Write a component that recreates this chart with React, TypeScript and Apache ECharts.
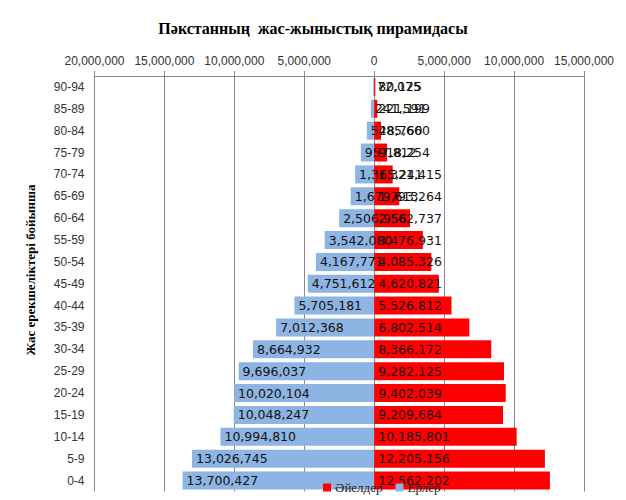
import React, { useEffect, useRef } from "react";
import * as echarts from "echarts";

const titleText = "Пәкстанның  жас-жыныстық пирамидасы";
const yAxisName = "Жас ерекшеліктері бойынша";
const seriesNames = ["Әйелдер", "Ерлер"];

const ageGroups = [
  "90-94", "85-89", "80-84", "75-79", "70-74", "65-69", "60-64", "55-59", "50-54",
  "45-49", "40-44", "35-39", "30-34", "25-29", "20-24", "15-19", "10-14", "5-9", "0-4",
];

const men = [
  72075, 241591, 528760, 957812, 1365241, 1679613, 2506956, 3542080, 4167771,
  4751612, 5705181, 7012368, 8664932, 9696037, 10020104, 10048247, 10994810, 13026745, 13700427,
];

const women = [
  80125, 221199, 485660, 918254, 1321415, 1793264, 2562737, 3476931, 4085326,
  4620821, 5526812, 6802514, 8366172, 9282125, 9402039, 9209684, 10185801, 12205156, 12562202,
];

const xMin = -20000000;
const xMax = 15000000;
const xStep = 5000000;

const fmt = (v: number) => Math.abs(v).toLocaleString("en-US");

export default function App() {
  const ref = useRef<HTMLDivElement>(null);
  useEffect(() => {
    if (!ref.current) return;
    const chart = echarts.init(ref.current, null, { renderer: "svg" });
    const labelStyle = {
      show: true,
      position: "insideLeft" as const,
      distance: 4,
      color: "#111",
      fontFamily: "DejaVu Sans",
      fontSize: 12.5,
      formatter: (p: any) => fmt(p.value),
    };
    chart.setOption({
      animation: false,
      backgroundColor: "#fff",
      title: {
        text: titleText,
        left: "center",
        top: 15,
        textStyle: {
          fontFamily: "Liberation Serif",
          fontWeight: "bold",
          fontSize: 16,
          color: "#000",
        },
      },
      graphic: [
        {
          type: "text",
          x: 30,
          y: 270,
          rotation: Math.PI / 2,
          style: {
            text: yAxisName,
            align: "center",
            verticalAlign: "middle",
            fontFamily: "Liberation Serif",
            fontWeight: "bold",
            fontSize: 13,
            fill: "#000",
          },
        },
      ],
      legend: {
        data: seriesNames,
        left: 323,
        top: 481,
        itemWidth: 8,
        itemHeight: 8,
        itemGap: 13,
        icon: "rect",
        padding: 0,
        textStyle: {
          fontFamily: "Liberation Serif",
          fontSize: 13,
          color: "#222",
          padding: [0, 0, 0, -1],
        },
      },
      grid: { left: 94.5, right: 42, top: 76, bottom: 8.5, containLabel: false },
      xAxis: {
        type: "value",
        position: "top",
        min: xMin,
        max: xMax,
        interval: xStep,
        axisLine: { show: true, lineStyle: { color: "#898989", width: 1 } },
        axisTick: { show: true, length: 5, lineStyle: { color: "#898989" } },
        splitLine: { show: true, lineStyle: { color: "#898989", width: 1 } },
        axisLabel: {
          formatter: (v: number) => fmt(v),
          fontFamily: "Liberation Sans",
          fontSize: 12,
          color: "#333",
          margin: 9,
        },
      },
      yAxis: {
        type: "category",
        inverse: true,
        data: ageGroups,
        axisLine: { show: false },
        axisTick: { show: false },
        splitLine: { show: false },
        axisLabel: {
          fontFamily: "Liberation Sans",
          fontSize: 12,
          color: "#333",
          margin: 10,
        },
      },
      series: [
        {
          name: seriesNames[1],
          type: "bar",
          data: men.map((v) => -v),
          barWidth: 18,
          barGap: "-100%",
          itemStyle: { color: "#8EB4E3" },
          label: labelStyle,
        },
        {
          name: seriesNames[0],
          type: "bar",
          data: women,
          barWidth: 18,
          barGap: "-100%",
          itemStyle: { color: "#FF0000" },
          label: labelStyle,
        },
      ],
    });
    return () => chart.dispose();
  }, []);
  return (
    <div
      ref={ref}
      style={{ position: "fixed", left: 0, top: 0, width: 626, height: 500 }}
    />
  );
}
